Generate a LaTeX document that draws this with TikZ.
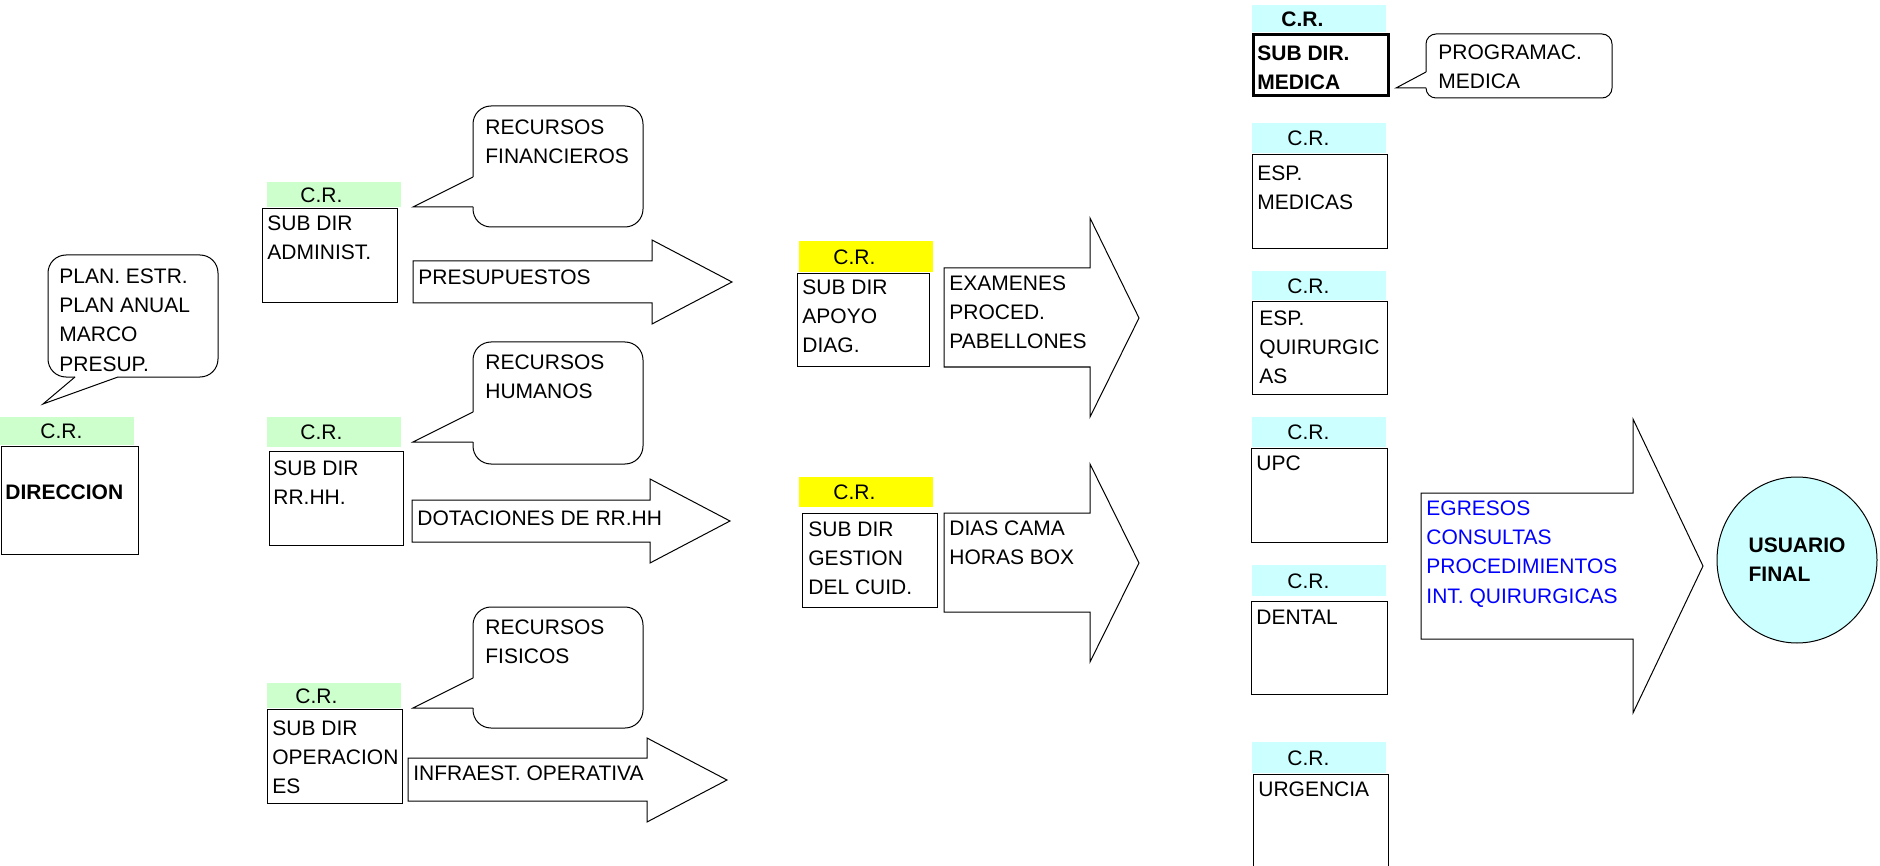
\documentclass[tikz,border=0pt]{standalone}
\usepackage{fontspec}
\setmainfont{Liberation Sans}
\usetikzlibrary{positioning}
\usetikzlibrary{shapes.geometric}

\definecolor{crverde}{HTML}{CCFFCC}
\definecolor{crceleste}{HTML}{CCFFFF}
\definecolor{cramarillo}{HTML}{FFFF00}

\tikzset{every node/.style={font=\fontsize{10.5}{14.6}\selectfont}}
\tikzset{negrita/.style={font=\fontsize{10.5}{14.6}\selectfont\bfseries}}
\tikzset{cr/.style={anchor=north west,inner sep=0pt,minimum width=67pt,minimum height=15pt,text width=67pt,align=left}}
\tikzset{caja/.style={draw=black,anchor=north west,inner sep=0pt,minimum width=67.5pt,minimum height=47pt,line width=0.6pt}}
\tikzset{txt/.style={anchor=north west,inner sep=0pt,align=left}}
\tikzset{globo/.style={draw=black,line width=0.5pt,rounded corners=9pt}}
\tikzset{flecha/.style={draw=black,line width=0.5pt,line join=miter}}

\begin{document}
\begin{tikzpicture}[x=0.5pt,y=-0.5pt]
\useasboundingbox (0,0) rectangle (1880,866);

% direccion
\node[cr,fill=crverde,minimum height=14pt] (crDir) at (0,417) {\hspace*{20pt}C.R.};
\node[caja,minimum width=68.5pt,minimum height=54pt] (dir) at (1,446) {};
\node[txt,negrita,below right=19pt and 2pt of dir.north west] (dirTxt) {DIRECCION};

\draw[globo] (118,377) -- (218,377) -- (218,255) -- (48,255) -- (48,377) -- (75,377);
\draw[flecha] (75,377) -- (43,404) -- (118,377);
\node[txt] (planTxt) at (59,268.5) {PLAN. ESTR.\\PLAN ANUAL\\MARCO\\PRESUP.};

% sub dir administrativa
\node[cr,fill=crverde,minimum height=12.5pt] (crAdm) at (267,182) {\hspace*{16.5pt}C.R.};
\node[caja] (adm) at (262,208) {};
\node[txt,below right=3.75pt and 2.5pt of adm.north west] (admTxt) {SUB DIR\\ADMINIST.};

\draw[globo] (473,177) -- (473,106) -- (643,106) -- (643,227) -- (473,227) -- (473,207);
\draw[flecha] (473,177) -- (413,207) -- (473,207);
\node[txt] (finTxt) at (485,119.5) {RECURSOS\\FINANCIEROS};

\draw[flecha] (413,261) -- (652,261) -- (652,240) -- (732,282) -- (652,324) -- (652,303) -- (413,303) -- cycle;
\node[txt] (presTxt) at (418,269.5) {PRESUPUESTOS};

% sub dir rr.hh.
\node[cr,fill=crverde] (crRrhh) at (267,417) {\hspace*{16.5pt}C.R.};
\node[caja,minimum width=67pt] (rrhh) at (269,451) {};
\node[txt,below right=4.75pt and 2pt of rrhh.north west] (rrhhTxt) {SUB DIR\\RR.HH.};

\draw[globo] (473,412) -- (473,342) -- (643,342) -- (643,464) -- (473,464) -- (473,442);
\draw[flecha] (473,412) -- (413,442) -- (473,442);
\node[txt] (humTxt) at (485,354.5) {RECURSOS\\HUMANOS};

\draw[flecha] (412,500) -- (650,500) -- (650,479) -- (730,521) -- (650,563) -- (650,542) -- (412,542) -- cycle;
\node[txt] (dotTxt) at (417,510.5) {DOTACIONES DE RR.HH};

% sub dir operaciones
\node[cr,fill=crverde,minimum height=12.5pt] (crOper) at (267,683) {\hspace*{14pt}C.R.};
\node[caja] (oper) at (267,709) {};
\node[txt,below right=5.75pt and 2.5pt of oper.north west] (operTxt) {SUB DIR\\OPERACION\\ES};

\draw[globo] (473,678) -- (473,607) -- (643,607) -- (643,728) -- (473,728) -- (473,708);
\draw[flecha] (473,678) -- (413,708) -- (473,708);
\node[txt] (fisTxt) at (485,619.5) {RECURSOS\\FISICOS};

\draw[flecha] (408,758) -- (647,758) -- (647,738) -- (727,780) -- (647,822) -- (647,801) -- (408,801) -- cycle;
\node[txt] (infTxt) at (413,765.5) {INFRAEST. OPERATIVA};

% apoyo diagnostico
\node[cr,fill=cramarillo,minimum height=15.5pt] (crApoyo) at (799,241) {\hspace*{17pt}C.R.};
\node[caja,minimum width=66pt,minimum height=46.5pt] (apoyo) at (797,273) {};
\node[txt,below right=3.25pt and 2.5pt of apoyo.north west] (apoyoTxt) {SUB DIR\\APOYO\\DIAG.};

\draw[flecha] (944,268) -- (1090,268) -- (1090,218) -- (1139,318) -- (1090,417) -- (1090,367) -- (944,367) -- cycle;
\node[txt] (examTxt) at (949,275.5) {EXAMENES\\PROCED.\\PABELLONES};

% gestion del cuidado
\node[cr,fill=cramarillo] (crGest) at (799,477) {\hspace*{17pt}C.R.};
\node[caja] (gest) at (802,513) {};
\node[txt,below right=4.25pt and 3pt of gest.north west] (gestTxt) {SUB DIR\\GESTION\\DEL CUID.};

\draw[flecha] (944,513) -- (1090,513) -- (1090,464) -- (1139,563) -- (1090,662) -- (1090,612) -- (944,612) -- cycle;
\node[txt] (diasTxt) at (949,520.5) {DIAS CAMA\\HORAS BOX};

% sub dir medica
\node[cr,negrita,fill=crceleste,minimum height=13.5pt] (crMed) at (1252,5) {\hspace*{14.5pt}C.R.};
\node[caja,line width=1.3pt,minimum height=30.5pt] (med) at (1252,33) {};
\node[txt,negrita,below right=6.25pt and 2.5pt of med.north west] (medTxt) {SUB DIR.\\MEDICA};

\draw[globo,rounded corners=5pt] (1426,72) -- (1426,34) -- (1612,34) -- (1612,98) -- (1426,98) -- (1426,88);
\draw[flecha] (1426,72) -- (1396,88) -- (1426,88);
\node[txt] (progTxt) at (1438,44.5) {PROGRAMAC.\\MEDICA};

% especialidades
\node[cr,fill=crceleste] (crEspMed) at (1252,123) {\hspace*{17.5pt}C.R.};
\node[caja] (espMed) at (1252,154) {};
\node[txt,below right=5.75pt and 2.5pt of espMed.north west] (espMedTxt) {ESP.\\MEDICAS};

\node[cr,fill=crceleste,minimum height=14.5pt] (crEspQx) at (1252,271) {\hspace*{17.5pt}C.R.};
\node[caja,minimum height=46.5pt] (espQx) at (1252,301) {};
\node[txt,below right=4.75pt and 3.5pt of espQx.north west] (espQxTxt) {ESP.\\QUIRURGIC\\AS};

\node[cr,fill=crceleste] (crUpc) at (1252,417) {\hspace*{17.5pt}C.R.};
\node[caja,minimum width=68pt] (upc) at (1251,448) {};
\node[txt,below right=3.75pt and 2.5pt of upc.north west] (upcTxt) {UPC};

\node[cr,fill=crceleste,minimum height=15.5pt] (crDental) at (1252,565) {\hspace*{17.5pt}C.R.};
\node[caja,minimum width=68pt,minimum height=46.5pt] (dental) at (1251,601) {};
\node[txt,below right=4.25pt and 2.5pt of dental.north west] (dentalTxt) {DENTAL};

\node[cr,fill=crceleste,minimum height=15.5pt] (crUrg) at (1252,742) {\hspace*{17.5pt}C.R.};
\node[caja] (urg) at (1253,774) {};
\node[txt,below right=3.75pt and 2.5pt of urg.north west] (urgTxt) {URGENCIA};

% producto final
\draw[flecha] (1421,493) -- (1633,493) -- (1633,419) -- (1703,566) -- (1633,713) -- (1633,639) -- (1421,639) -- cycle;
\node[txt,text=blue] (prodTxt) at (1426,500.5) {EGRESOS\\CONSULTAS\\PROCEDIMIENTOS\\INT. QUIRURGICAS};

\node[ellipse,draw=black,line width=0.5pt,fill=crceleste,negrita,align=left,inner sep=0pt,minimum width=80pt,minimum height=83pt] (usuario) at (1797,560) {USUARIO\\FINAL};

\end{tikzpicture}
\end{document}
